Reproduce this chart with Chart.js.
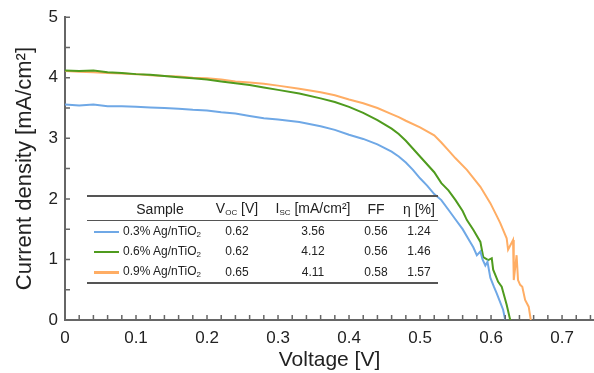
<!DOCTYPE html>
<html lang="en">
<head>
  <meta charset="UTF-8">
  <title>J-V curves Ag/nTiO2</title>
  <script src="https://cdn.jsdelivr.net/npm/chart.js"></script>
  <style>
    body { margin: 0; background: #fff; font-family: "Liberation Sans", Arial, sans-serif; color: #222; }
    .wrap { position: relative; width: 594px; height: 373px; }
    canvas { display: block; }
    #tbl {
      position: absolute; left: 87px; top: 195px; width: 351px;
      border-collapse: collapse; table-layout: fixed;
      border-top: 2px solid #555; border-bottom: 2px solid #555;
    }
    #tbl th { font-weight: normal; font-size: 14px; height: 23px; padding: 0; white-space: nowrap; border-bottom: 1px solid #555; }
    #tbl td { font-size: 12px; height: 20px; padding: 0; text-align: center; white-space: nowrap; }
    #tbl tbody tr:last-child td { height: 21px; }
    #tbl td.name { text-align: left; padding-left: 3px; }
    #tbl sub { font-size: 8px; vertical-align: -2px; }
    .swatch { display: inline-block; width: 25px; height: 2.5px; margin-left: 6px; vertical-align: middle; }
  </style>
</head>
<body>
  <div class="wrap">
    <canvas id="jvChart" width="594" height="373"></canvas>
    <table id="tbl">
      <colgroup>
        <col style="width:33px"><col style="width:80px"><col style="width:74px">
        <col style="width:78px"><col style="width:48px"><col style="width:38px">
      </colgroup>
      <thead>
        <tr>
          <th></th><th>Sample</th><th>V<sub>OC</sub> [V]</th><th>I<sub>SC</sub> [mA/cm²]</th><th>FF</th><th>η [%]</th>
        </tr>
      </thead>
      <tbody id="tblBody"></tbody>
    </table>
  </div>

  <script>
    // samples and summary table
    const samples = ["0.3% Ag/nTiO", "0.6% Ag/nTiO", "0.9% Ag/nTiO"];
    const vocValues = ["0.62", "0.62", "0.65"];
    const iscValues = ["3.56", "4.12", "4.11"];
    const ffValues = ["0.56", "0.56", "0.58"];
    const etaValues = ["1.24", "1.46", "1.57"];
    const colors = ['#6fa8e6', '#4f9b1e', '#ffad64'];

    // J-V curves (voltage [V], current density [mA/cm2])
    const v03 = [0, 0.02, 0.04, 0.06, 0.08, 0.10, 0.12, 0.14, 0.16, 0.18, 0.20, 0.22, 0.24, 0.26, 0.28, 0.30, 0.33, 0.36, 0.38, 0.40,
      0.42, 0.44, 0.46, 0.47, 0.48, 0.49, 0.50, 0.51, 0.52, 0.53, 0.54, 0.55, 0.56, 0.57, 0.575, 0.58, 0.585, 0.588, 0.592, 0.595,
      0.599, 0.604, 0.608, 0.612, 0.617, 0.620];
    const j03 = [3.56, 3.54, 3.56, 3.53, 3.53, 3.52, 3.51, 3.50, 3.49, 3.47, 3.46, 3.43, 3.41, 3.37, 3.33, 3.31, 3.27, 3.20, 3.14, 3.06,
      2.99, 2.90, 2.78, 2.70, 2.60, 2.48, 2.34, 2.22, 2.08, 1.98, 1.82, 1.66, 1.50, 1.30, 1.20, 1.07, 1.13, 1.00, 0.90, 0.96,
      0.70, 0.55, 0.44, 0.32, 0.17, 0];

    const v06 = [0, 0.02, 0.04, 0.06, 0.08, 0.10, 0.12, 0.14, 0.16, 0.18, 0.20, 0.22, 0.24, 0.26, 0.28, 0.30, 0.33, 0.36, 0.38, 0.40,
      0.42, 0.44, 0.46, 0.47, 0.48, 0.50, 0.52, 0.53, 0.54, 0.55, 0.56, 0.566, 0.575, 0.585, 0.589, 0.596, 0.601, 0.603, 0.610, 0.615,
      0.622, 0.627];
    const j06 = [4.12, 4.11, 4.12, 4.09, 4.08, 4.06, 4.05, 4.03, 4.01, 3.99, 3.97, 3.94, 3.91, 3.88, 3.84, 3.80, 3.74, 3.66, 3.60, 3.52,
      3.42, 3.30, 3.16, 3.07, 2.96, 2.70, 2.44, 2.26, 2.14, 1.98, 1.80, 1.65, 1.49, 1.29, 1.04, 0.99, 1.02, 0.83, 0.63, 0.55,
      0.25, 0];

    const v09 = [0, 0.02, 0.04, 0.06, 0.08, 0.10, 0.12, 0.14, 0.16, 0.18, 0.20, 0.22, 0.24, 0.26, 0.28, 0.30, 0.33, 0.36, 0.38, 0.40,
      0.42, 0.44, 0.46, 0.47, 0.48, 0.50, 0.52, 0.53, 0.54, 0.55, 0.566, 0.585, 0.599, 0.608, 0.613, 0.622, 0.624, 0.631, 0.632, 0.636,
      0.638, 0.641, 0.644, 0.648, 0.653, 0.656];
    const j09 = [4.11, 4.10, 4.09, 4.08, 4.07, 4.06, 4.04, 4.03, 4.02, 4.00, 3.99, 3.97, 3.94, 3.92, 3.90, 3.87, 3.82, 3.76, 3.71, 3.64,
      3.58, 3.50, 3.40, 3.35, 3.29, 3.18, 3.05, 2.93, 2.80, 2.67, 2.48, 2.20, 1.93, 1.72, 1.60, 1.35, 1.16, 1.32, 0.66, 1.07,
      0.66, 0.58, 0.55, 0.33, 0.22, 0];

    const curves = [[v03, j03], [v06, j06], [v09, j09]];

    // table rows
    const body = document.getElementById('tblBody');
    samples.forEach((s, i) => {
      const tr = document.createElement('tr');
      tr.innerHTML = '<td><span class="swatch" style="background:' + colors[i] + '"></span></td>' +
        '<td class="name">' + s + '<sub>2</sub></td>' +
        '<td>' + vocValues[i] + '</td><td>' + iscValues[i] + '</td>' +
        '<td>' + ffValues[i] + '</td><td>' + etaValues[i] + '</td>';
      body.appendChild(tr);
    });

    // tick marks pointing into the plot
    const inwardTicks = {
      id: 'inwardTicks',
      afterDatasetsDraw(chart) {
        const { ctx, chartArea, scales: { x, y } } = chart;
        ctx.save();
        ctx.strokeStyle = '#666';
        ctx.lineWidth = 1.5;
        ctx.beginPath();
        x.ticks.forEach(t => {
          const px = x.getPixelForValue(t.value);
          ctx.moveTo(px, chartArea.bottom);
          ctx.lineTo(px, chartArea.bottom - 5);
        });
        y.ticks.forEach(t => {
          const py = y.getPixelForValue(t.value);
          ctx.moveTo(chartArea.left, py);
          ctx.lineTo(chartArea.left + 5, py);
        });
        ctx.stroke();
        ctx.restore();
      }
    };

    const font = "'Liberation Sans', Arial, sans-serif";

    new Chart(document.getElementById('jvChart').getContext('2d'), {
      type: 'line',
      data: {
        datasets: curves.map((c, i) => ({
          label: samples[i] + '2',
          data: c[0].map((v, k) => ({ x: v, y: c[1][k] })),
          borderColor: colors[i],
          borderWidth: 2,
          pointRadius: 0,
          tension: 0,
          fill: false
        }))
      },
      options: {
        responsive: false,
        animation: false,
        devicePixelRatio: 1,
        layout: { padding: { top: 17, right: 0, left: 0, bottom: 0 } },
        plugins: { legend: { display: false }, tooltip: { enabled: false } },
        scales: {
          x: {
            type: 'linear',
            min: 0,
            max: 0.745,
            grid: { display: false, drawTicks: false },
            border: { display: true, color: '#666', width: 2 },
            ticks: {
              stepSize: 0.02,
              includeBounds: false,
              autoSkip: false,
              maxRotation: 0,
              padding: 8,
              color: '#222',
              font: { family: font, size: 17 },
              callback: v => {
                const r = Math.round(v * 10);
                if (Math.abs(v * 10 - r) > 1e-6) return '';
                return r === 0 ? '0' : (r / 10).toFixed(1);
              }
            },
            title: {
              display: true,
              text: 'Voltage [V]',
              color: '#222',
              font: { family: font, size: 21 },
              padding: { top: 4, bottom: 0 }
            },
            afterFit: s => { s.height = 53; s.paddingRight = 0; }
          },
          y: {
            min: 0,
            max: 5,
            grid: { display: false, drawTicks: false },
            border: { display: true, color: '#666', width: 2 },
            ticks: {
              stepSize: 0.5,
              autoSkip: false,
              padding: 7,
              color: '#222',
              font: { family: font, size: 17 },
              callback: v => Number.isInteger(v) ? String(v) : ''
            },
            title: {
              display: true,
              text: 'Current density [mA/cm²]',
              color: '#222',
              font: { family: font, size: 22 },
              padding: { top: 12, bottom: 0 }
            },
            afterFit: s => { s.width = 65; }
          }
        }
      },
      plugins: [inwardTicks]
    });
  </script>
</body>
</html>
